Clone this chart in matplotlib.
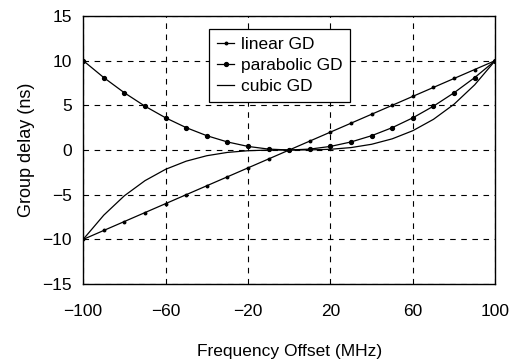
import matplotlib
matplotlib.use("Agg")
import matplotlib.pyplot as plt

freq = [-100, -90, -80, -70, -60, -50, -40, -30, -20, -10, 0,
        10, 20, 30, 40, 50, 60, 70, 80, 90, 100]
linear_gd = [-10, -9, -8, -7, -6, -5, -4, -3, -2, -1, 0,
             1, 2, 3, 4, 5, 6, 7, 8, 9, 10]
parabolic_gd = [10, 8.1, 6.4, 4.9, 3.6, 2.5, 1.6, 0.9, 0.4, 0.1, 0,
                0.1, 0.4, 0.9, 1.6, 2.5, 3.6, 4.9, 6.4, 8.1, 10]
cubic_gd = [-10, -7.29, -5.12, -3.43, -2.16, -1.25, -0.64, -0.27, -0.08, -0.01, 0,
            0.01, 0.08, 0.27, 0.64, 1.25, 2.16, 3.43, 5.12, 7.29, 10]

xticks = [-100, -60, -20, 20, 60, 100]
yticks = [-15, -10, -5, 0, 5, 10, 15]

plt.rcParams['font.family'] = ['Liberation Sans', 'DejaVu Sans']

fig = plt.figure(figsize=(5.23, 3.61), dpi=100)
ax = fig.add_axes([0.159, 0.213, 0.788, 0.743])

ax.plot(freq, linear_gd, color='black', lw=0.9, marker='o', markersize=1.8, label='linear GD')
ax.plot(freq, parabolic_gd, color='black', lw=0.9, marker='o', markersize=2.8, label='parabolic GD')
ax.plot(freq, cubic_gd, color='black', lw=0.9, label='cubic GD')

ax.set_xlim(-100, 100)
ax.set_ylim(-15, 15)
ax.set_xticks(xticks)
ax.set_yticks(yticks)
ax.tick_params(axis='x', length=0, labelsize=12.5, pad=14)
ax.tick_params(axis='y', length=0, labelsize=12.5, pad=8)
ax.grid(True, color='black', linestyle=(0, (5, 5)), linewidth=0.8)
for s in ax.spines.values():
    s.set_linewidth(1.0)
    s.set_color('black')

ax.set_xlabel("Frequency Offset (MHz)", fontsize=12.5, labelpad=18)
ax.set_ylabel("Group delay (ns)", fontsize=13, labelpad=5)

leg = ax.legend(loc='upper left', bbox_to_anchor=(0.306, 0.951), fontsize=12.5,
                fancybox=False, framealpha=1, edgecolor='black', borderaxespad=0,
                handlelength=1.0, handletextpad=0.35, borderpad=0.45, labelspacing=0.35)
leg.get_frame().set_linewidth(0.9)

plt.savefig("out.png", dpi=100)
